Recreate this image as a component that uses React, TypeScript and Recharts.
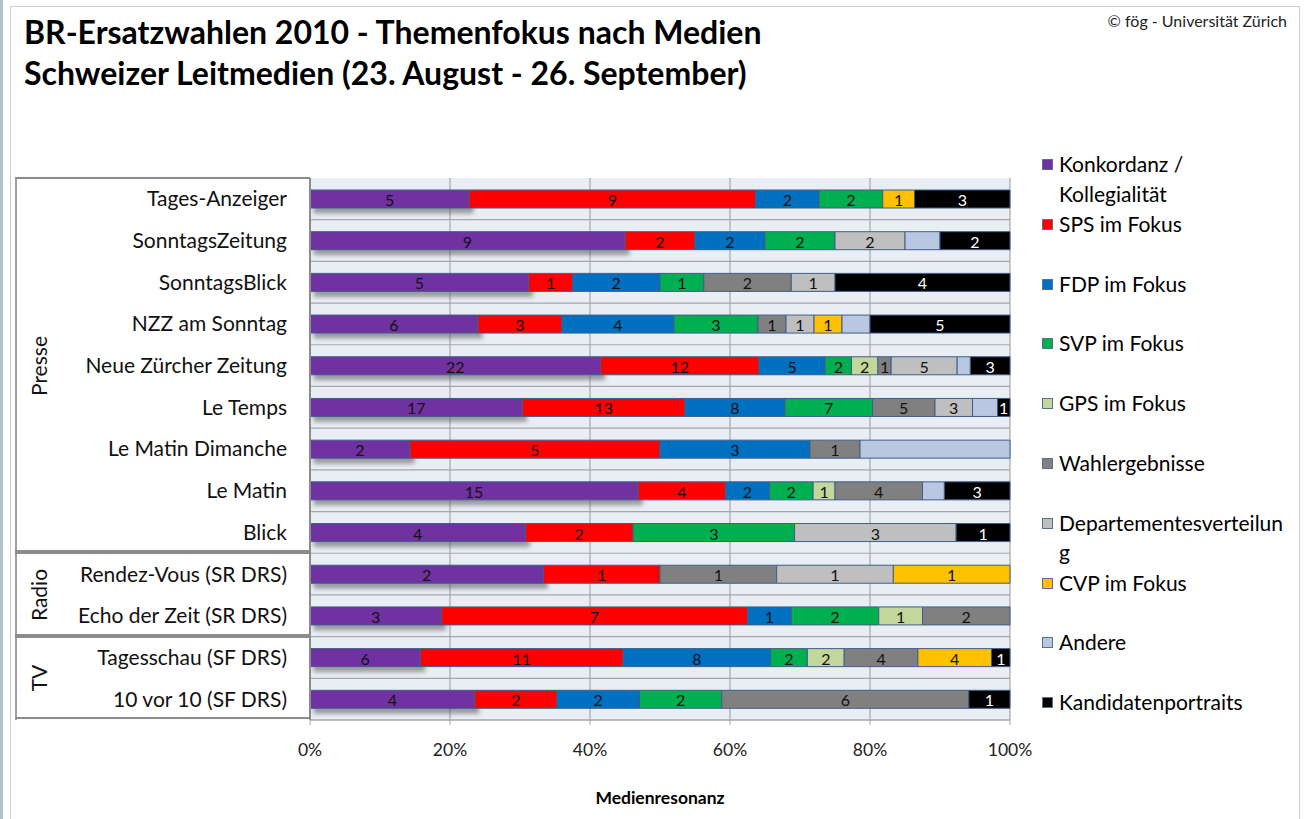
import React from 'react';
import { BarChart, Bar, XAxis, YAxis, CartesianGrid, LabelList } from 'recharts';

const categories = [
  'Tages-Anzeiger',
  'SonntagsZeitung',
  'SonntagsBlick',
  'NZZ am Sonntag',
  'Neue Zürcher Zeitung',
  'Le Temps',
  'Le Matin Dimanche',
  'Le Matin',
  'Blick',
  'Rendez-Vous (SR DRS)',
  'Echo der Zeit (SR DRS)',
  'Tagesschau (SF DRS)',
  '10 vor 10 (SF DRS)',
];

const konkordanz = [5, 9, 5, 6, 22, 17, 2, 15, 4, 2, 3, 6, 4];
const sps = [9, 2, 1, 3, 12, 13, 5, 4, 2, 1, 7, 11, 2];
const fdp = [2, 2, 2, 4, 5, 8, 3, 2, 0, 0, 1, 8, 2];
const svp = [2, 2, 1, 3, 2, 7, 0, 2, 3, 0, 2, 2, 2];
const gps = [0, 0, 0, 0, 2, 0, 0, 1, 0, 0, 1, 2, 0];
const wahl = [0, 0, 2, 1, 1, 5, 1, 4, 0, 1, 2, 4, 6];
const dept = [0, 2, 1, 1, 5, 3, 0, 0, 3, 1, 0, 0, 0];
const cvp = [1, 0, 0, 1, 0, 0, 0, 0, 0, 1, 0, 4, 0];
const andere = [0, 1, 0, 1, 1, 2, 3, 1, 0, 0, 0, 0, 0];
const kand = [3, 2, 4, 5, 3, 1, 0, 3, 1, 0, 0, 1, 1];

const xTicks = [0, 0.2, 0.4, 0.6, 0.8, 1];

const groups = [
  { name: 'Presse', rows: 9 },
  { name: 'Radio', rows: 2 },
  { name: 'TV', rows: 2 },
];

const series = [
  { key: 'konkordanz', name: ['Konkordanz /', 'Kollegialität'], color: '#7030A0', values: konkordanz, text: '#111', labels: true },
  { key: 'sps', name: ['SPS im Fokus'], color: '#FF0000', values: sps, text: '#111', labels: true },
  { key: 'fdp', name: ['FDP im Fokus'], color: '#0070C0', values: fdp, text: '#111', labels: true },
  { key: 'svp', name: ['SVP im Fokus'], color: '#00B050', values: svp, text: '#111', labels: true },
  { key: 'gps', name: ['GPS im Fokus'], color: '#C3D69B', values: gps, text: '#111', labels: true },
  { key: 'wahl', name: ['Wahlergebnisse'], color: '#808080', values: wahl, text: '#111', labels: true },
  { key: 'dept', name: ['Departementesverteilun', 'g'], color: '#BFBFBF', values: dept, text: '#111', labels: true },
  { key: 'cvp', name: ['CVP im Fokus'], color: '#FFC000', values: cvp, text: '#111', labels: true },
  { key: 'andere', name: ['Andere'], color: '#B9C7E0', values: andere, text: '#111', labels: false },
  { key: 'kand', name: ['Kandidatenportraits'], color: '#000000', values: kand, text: '#fff', labels: true },
];

const data = categories.map((name, i) => {
  const row: Record<string, any> = { name };
  series.forEach((s) => (row[s.key] = s.values[i]));
  return row;
});

const W = 1305;
const H = 819;
const PLOT_LEFT = 310;
const PLOT_RIGHT = 1010;
const PLOT_TOP = 178;
const PLOT_BOTTOM = 720;
const ROW_H = (PLOT_BOTTOM - PLOT_TOP) / categories.length;
const FONT = 'Lato, "Open Sans", sans-serif';

const makeLabel = (color: string) => (props: any) => {
  const { x, y, width, height, value } = props;
  if (!value) return null;
  return (
    <text
      x={Number(x) + Number(width) / 2}
      y={Number(y) + Number(height) / 2 + 0.5}
      textAnchor="middle"
      dominantBaseline="central"
      fill={color}
      fontSize={16}
      fontFamily={FONT}
    >
      {value}
    </text>
  );
};

function LegendBox() {
  return (
    <div style={{ position: 'absolute', left: 1042, top: 149, width: 260, height: 600, fontFamily: FONT }}>
      {series.map((s, i) => (
        <div key={s.key} style={{ position: 'absolute', left: 0, top: i * 59.8 }}>
          <div
            style={{
              position: 'absolute',
              left: 0,
              top: 10,
              width: 9,
              height: 9,
              background: s.color,
              border: '1px solid #5A6F8C',
            }}
          />
          {s.name.map((line, j) => (
            <div
              key={j}
              style={{
                position: 'absolute',
                left: 17,
                top: j * 29.5,
                fontSize: 21,
                lineHeight: '29px',
                whiteSpace: 'nowrap',
                color: '#000',
              }}
            >
              {line}
            </div>
          ))}
        </div>
      ))}
    </div>
  );
}

export default function App() {
  let rowStart = 0;
  return (
    <div style={{ position: 'absolute', left: 0, top: 0, width: W, height: H, background: '#fff', fontFamily: FONT, overflow: 'hidden' }}>
      {/* shadow filter for the first segment, as in the original */}
      <svg width={0} height={0} style={{ position: 'absolute' }}>
        <defs>
          <filter id="barShadow" x="-5%" y="-50%" width="115%" height="220%">
            <feDropShadow dx={4} dy={5} stdDeviation={2} floodColor="#555" floodOpacity={0.55} />
          </filter>
        </defs>
      </svg>
      <div style={{ position: 'absolute', left: 0, top: 0, width: 3, height: H, background: '#B5C1C8' }} />
      <div style={{ position: 'absolute', left: 10, top: 6, width: 1288, height: H, border: '1px solid #CFCFCF' }} />
      <div
        style={{
          position: 'absolute',
          left: 24,
          top: 11,
          fontSize: 32,
          fontWeight: 700,
          lineHeight: '41px',
          color: '#000',
          whiteSpace: 'nowrap',
        }}
      >
        <div>BR-Ersatzwahlen 2010 - Themenfokus nach Medien</div>
        <div>Schweizer Leitmedien (23. August - 26. September)</div>
      </div>
      <div style={{ position: 'absolute', right: 18, top: 11, fontSize: 16, color: '#222' }}>
        © fög - Universität Zürich
      </div>

      <BarChart
        width={W}
        height={H}
        data={data}
        layout="vertical"
        stackOffset="expand"
        barSize={18}
        margin={{ top: PLOT_TOP, right: W - PLOT_RIGHT, bottom: 0, left: 0 }}
        style={{ position: 'absolute', left: 0, top: 0 }}
      >
        <CartesianGrid
          fill="#E9EDF4"
          stroke="#A6A6A6"
          strokeWidth={1.2}
          horizontalCoordinatesGenerator={() =>
            categories.map((_, i) => PLOT_TOP + ROW_H * (i + 1))
          }
        />
        <XAxis
          type="number"
          domain={[0, 1]}
          ticks={xTicks}
          height={H - PLOT_BOTTOM}
          tickFormatter={(v: number) => `${Math.round(v * 100)}%`}
          tick={{ fontSize: 17.5, fill: '#222', fontFamily: FONT }}
          tickLine={{ stroke: '#A6A6A6' }}
          tickSize={5}
          tickMargin={19}
          axisLine={{ stroke: '#A6A6A6' }}
          label={{
            value: 'Medienresonanz',
            position: 'insideBottom',
            offset: 15,
            style: { fontSize: 17.5, fontWeight: 700, fill: '#000', fontFamily: FONT },
          }}
        />
        <YAxis
          type="category"
          dataKey="name"
          width={PLOT_LEFT}
          tick={{ fontSize: 21, fill: '#111', fontFamily: FONT }}
          tickLine={false}
          tickMargin={17}
          axisLine={{ stroke: '#8C8C8C', strokeWidth: 2 }}
        />
        {series.map((s, i) => (
          <Bar
            key={s.key}
            dataKey={s.key}
            stackId="a"
            fill={s.color}
            stroke="#3F5E8C"
            strokeWidth={1}
            style={i === 0 ? { filter: 'url(#barShadow)' } : undefined}
            isAnimationActive={false}
          >
            {s.labels && <LabelList dataKey={s.key} content={makeLabel(s.text)} />}
          </Bar>
        ))}
      </BarChart>

      <LegendBox />

      {/* group table on the left */}
      <div
        style={{
          position: 'absolute',
          left: 15,
          top: PLOT_TOP - 1,
          width: PLOT_LEFT - 15 - 2,
          height: PLOT_BOTTOM - PLOT_TOP + 1,
          borderLeft: '2px solid #A0A0A0',
          pointerEvents: 'none',
        }}
      />
      {groups.map((g) => {
        const top = PLOT_TOP + rowStart * ROW_H;
        const h = g.rows * ROW_H;
        rowStart += g.rows;
        return (
          <div key={g.name}>
            <div
              style={{
                position: 'absolute',
                left: 15,
                top: top - 1,
                width: PLOT_LEFT - 15,
                height: h,
                borderTop: '2px solid #8C8C8C',
                borderBottom: '2px solid #8C8C8C',
                boxSizing: 'border-box',
              }}
            />
            <div
              style={{
                position: 'absolute',
                left: 38,
                top: top + h / 2,
                transform: 'translate(-50%, -50%) rotate(-90deg)',
                fontSize: 21,
                color: '#111',
                whiteSpace: 'nowrap',
              }}
            >
              {g.name}
            </div>
          </div>
        );
      })}
    </div>
  );
}
